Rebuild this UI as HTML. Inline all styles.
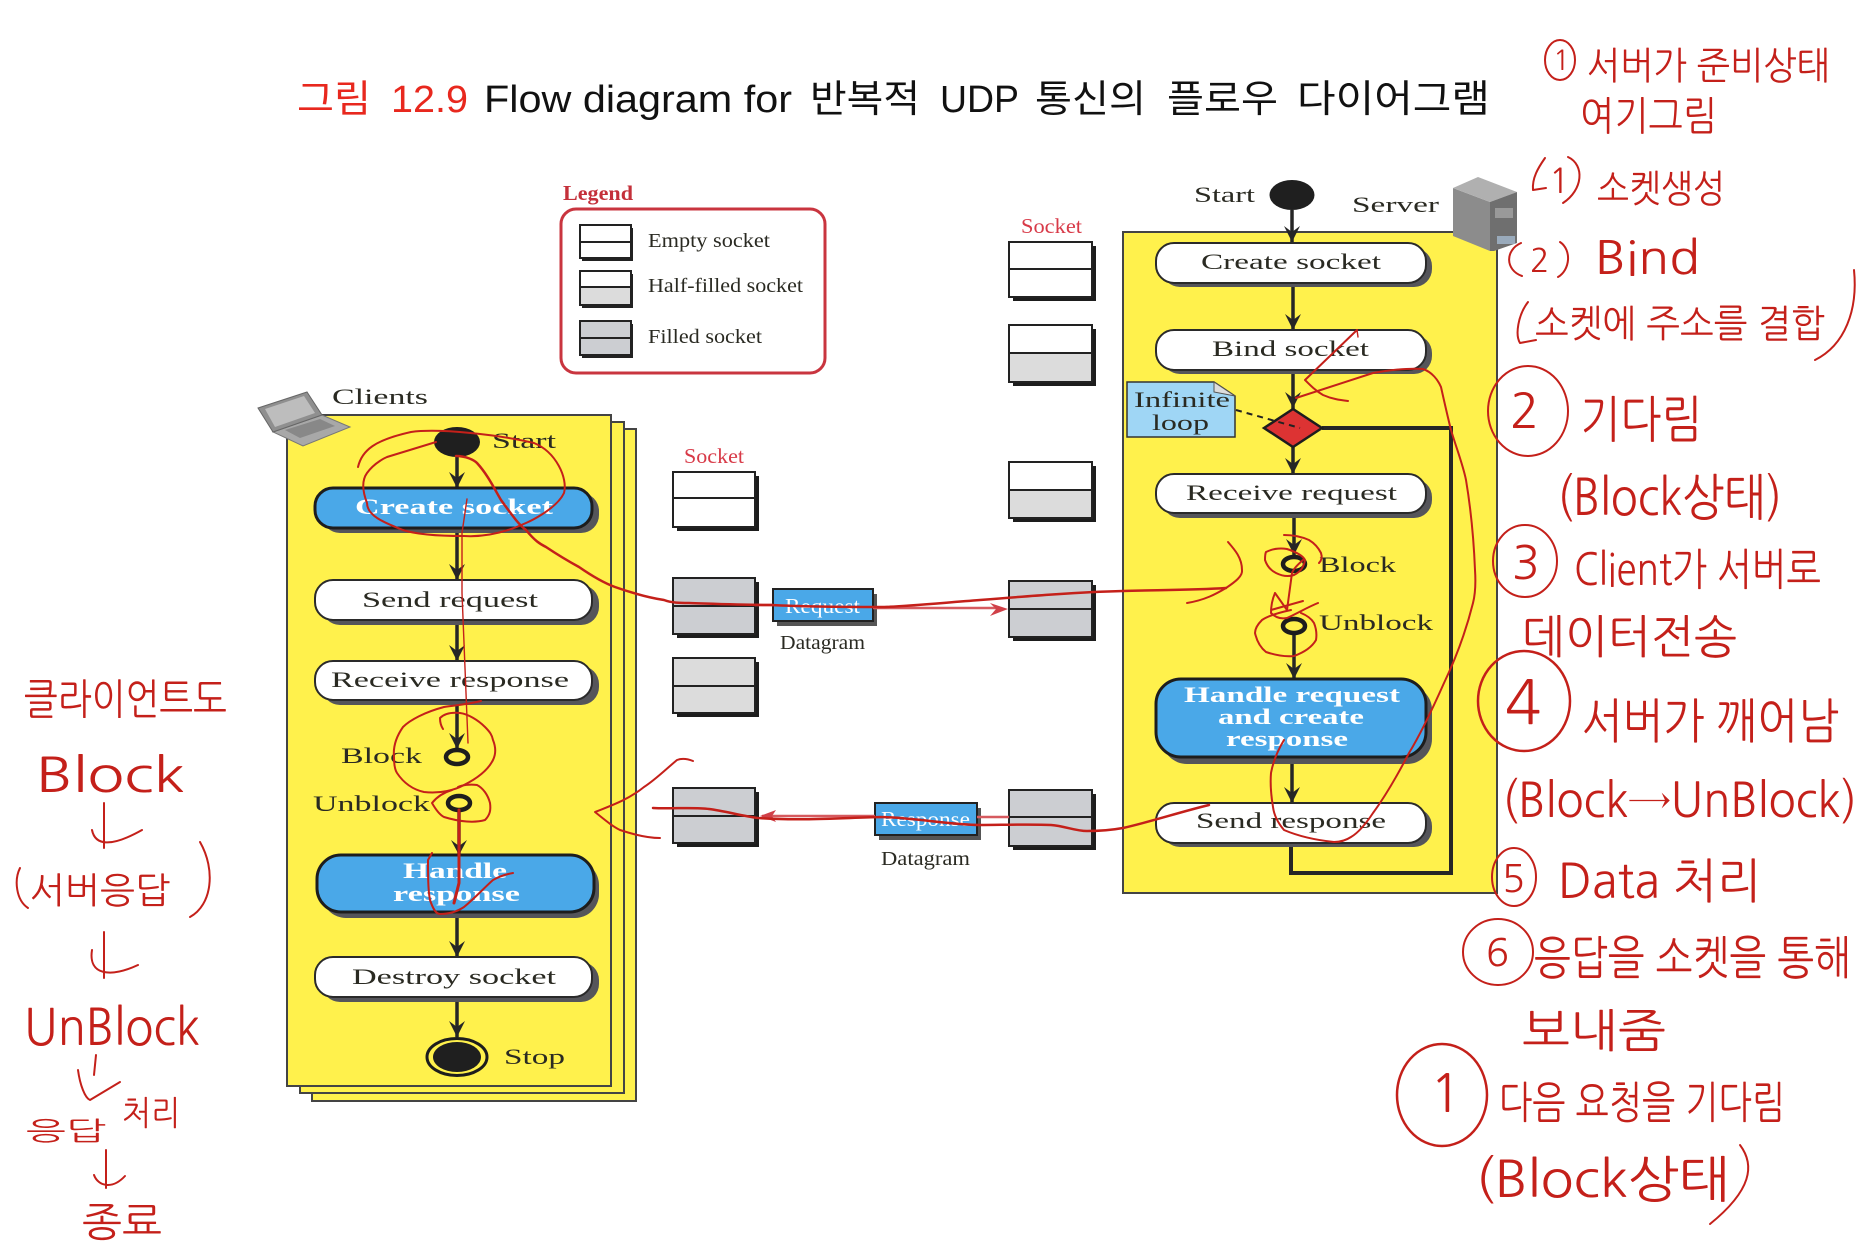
<!DOCTYPE html>
<html lang="ko">
<head>
<meta charset="utf-8">
<title>그림 12.9 Flow diagram</title>
<style>
html,body{margin:0;padding:0;background:#fff}
svg{display:block;font-size:22px}
text{font-family:"Liberation Serif","Noto Serif CJK SC",serif;fill:#2a2a22}
.t{font-family:"Liberation Sans","Noto Sans CJK KR",sans-serif;font-size:38px;fill:#111}
.tr{fill:#e8281e}
.w{fill:#fff;font-weight:bold}
.rl{fill:#d83a48;font-size:21px}
.lg{font-size:20px}
.panel{fill:#fff14c;stroke:#444;stroke-width:2}
.node{fill:#fff;stroke:#2a2a2a;stroke-width:2}
.blue{fill:#4aa8e8;stroke:#1d1d1d;stroke-width:3}
.sh{fill:#55555a}
.ln{stroke:#262626;stroke-width:3.5;fill:none}
.hd{fill:#262626}
.ring{fill:none;stroke:#1d1d1d;stroke-width:4.5}
.sk{stroke:#222;stroke-width:2}
.e{fill:#fff}.f{fill:#ccced2}.g{fill:#dcdcdc}
.pen{fill:none;stroke:#c4201a;stroke-width:2;stroke-linecap:round;stroke-linejoin:round}
.pent{fill:none;stroke:#c4201a;stroke-width:1.4;stroke-linecap:round;stroke-linejoin:round}
.penb{fill:none;stroke:#c4201a;stroke-width:3;stroke-linecap:round;stroke-linejoin:round}
.h{font-family:"NanumGothic","Noto Sans CJK KR",sans-serif;fill:#c4201a}
</style>
</head>
<body>
<svg width="1872" height="1244" viewBox="0 0 1872 1244" xmlns="http://www.w3.org/2000/svg">
<rect width="1872" height="1244" fill="#fff"/>

<!-- Title -->
<text class="t tr" x="297" y="112" textLength="74" lengthAdjust="spacingAndGlyphs">그림</text>
<text class="t tr" x="391" y="112" textLength="77" lengthAdjust="spacingAndGlyphs">12.9</text>
<text class="t" x="484" y="112" textLength="308" lengthAdjust="spacingAndGlyphs">Flow diagram for</text>
<text class="t" x="810" y="112" textLength="110" lengthAdjust="spacingAndGlyphs">반복적</text>
<text class="t" x="940" y="112" textLength="79" lengthAdjust="spacingAndGlyphs">UDP</text>
<text class="t" x="1035" y="112" textLength="111" lengthAdjust="spacingAndGlyphs">통신의</text>
<text class="t" x="1167" y="112" textLength="111" lengthAdjust="spacingAndGlyphs">플로우</text>
<text class="t" x="1297" y="112" textLength="193" lengthAdjust="spacingAndGlyphs">다이어그램</text>

<!-- Legend -->
<text x="563" y="200" textLength="70" lengthAdjust="spacingAndGlyphs" style="fill:#c4303a;font-weight:bold;font-size:21px">Legend</text>
<rect x="561" y="209" width="264" height="164" rx="15" fill="#fff" stroke="#c9353f" stroke-width="3"/>
<rect x="582" y="228" width="51" height="33" fill="#222"/>
<rect x="580" y="225" width="51" height="33" class="e sk"/><line x1="580" y1="242" x2="631" y2="242" class="sk"/>
<rect x="582" y="274" width="51" height="34" fill="#222"/>
<rect x="580" y="271" width="51" height="34" class="e sk"/><rect x="580" y="287" width="51" height="18" class="g sk"/>
<rect x="582" y="324" width="51" height="34" fill="#222"/>
<rect x="580" y="321" width="51" height="34" class="f sk"/><line x1="580" y1="338" x2="631" y2="338" class="sk"/>
<text class="lg" x="648" y="247" textLength="122" lengthAdjust="spacingAndGlyphs">Empty socket</text>
<text class="lg" x="648" y="292" textLength="155" lengthAdjust="spacingAndGlyphs">Half-filled socket</text>
<text class="lg" x="648" y="343" textLength="114" lengthAdjust="spacingAndGlyphs">Filled socket</text>

<!-- Client panels -->
<rect x="312" y="429" width="324" height="672" class="panel"/>
<rect x="300" y="422" width="324" height="671" class="panel"/>
<rect x="287" y="415" width="324" height="671" class="panel"/>

<!-- Laptop -->
<polygon points="273,432 322,415 350,427 303,446" fill="#a8a8a8" stroke="#777"/>
<polygon points="258,408 307,392 322,415 273,432" fill="#8f8f8f" stroke="#666"/>
<polygon points="265,409 304,396 315,413 275,427" fill="#bdbdbd"/>
<polygon points="285,430 320,419 335,426 300,438" fill="#888"/>
<text x="332" y="404" textLength="96" lengthAdjust="spacingAndGlyphs">Clients</text>

<!-- Client flow -->
<ellipse cx="457" cy="442" rx="23" ry="15" fill="#1f1f1f"/>
<text x="492" y="448" textLength="64" lengthAdjust="spacingAndGlyphs">Start</text>
<g>
<line x1="457" y1="457" x2="457" y2="488" class="ln"/><polygon points="449,472 457,478 465,472 457,488" class="hd"/>
<line x1="457" y1="528" x2="457" y2="580" class="ln"/><polygon points="449,564 457,570 465,564 457,580" class="hd"/>
<line x1="457" y1="620" x2="457" y2="661" class="ln"/><polygon points="449,645 457,651 465,645 457,661" class="hd"/>
<line x1="457" y1="700" x2="457" y2="748" class="ln"/><polygon points="449,733 457,739 465,733 457,749" class="hd"/>
<line x1="459" y1="812" x2="459" y2="855" class="ln"/><polygon points="451,840 459,846 467,840 459,855" class="hd"/>
<line x1="457" y1="912" x2="457" y2="957" class="ln"/><polygon points="449,941 457,947 465,941 457,957" class="hd"/>
<line x1="457" y1="997" x2="457" y2="1037" class="ln"/><polygon points="449,1021 457,1027 465,1021 457,1037" class="hd"/>
</g>

<rect x="322" y="493" width="277" height="40" rx="18" class="sh"/>
<rect x="315" y="488" width="277" height="40" rx="18" class="blue"/>
<text class="w" x="355" y="514" textLength="198" lengthAdjust="spacingAndGlyphs">Create socket</text>

<rect x="322" y="585" width="277" height="40" rx="18" class="sh"/>
<rect x="315" y="580" width="277" height="40" rx="18" class="node"/>
<text x="362" y="607" textLength="176" lengthAdjust="spacingAndGlyphs">Send request</text>

<rect x="322" y="666" width="277" height="39" rx="18" class="sh"/>
<rect x="315" y="661" width="277" height="39" rx="18" class="node"/>
<text x="331" y="687" textLength="238" lengthAdjust="spacingAndGlyphs">Receive response</text>

<text x="341" y="763" textLength="81" lengthAdjust="spacingAndGlyphs">Block</text>
<ellipse cx="457" cy="757" rx="11" ry="7" class="ring"/>
<text x="313" y="811" textLength="117" lengthAdjust="spacingAndGlyphs">Unblock</text>
<ellipse cx="459" cy="803" rx="11" ry="7" class="ring"/>

<rect x="322" y="861" width="277" height="57" rx="24" class="sh"/>
<rect x="317" y="855" width="277" height="57" rx="24" class="blue"/>
<text class="w" x="403" y="878" textLength="104" lengthAdjust="spacingAndGlyphs">Handle</text>
<text class="w" x="393" y="901" textLength="127" lengthAdjust="spacingAndGlyphs">response</text>

<rect x="322" y="962" width="277" height="40" rx="18" class="sh"/>
<rect x="315" y="957" width="277" height="40" rx="18" class="node"/>
<text x="352" y="984" textLength="204" lengthAdjust="spacingAndGlyphs">Destroy socket</text>

<ellipse cx="457" cy="1057" rx="30" ry="18.5" fill="none" stroke="#1d1d1d" stroke-width="3"/>
<ellipse cx="457" cy="1057" rx="24" ry="15" fill="#1f1f1f"/>
<text x="504" y="1064" textLength="61" lengthAdjust="spacingAndGlyphs">Stop</text>

<!-- Client sockets -->
<text class="rl" x="684" y="463" textLength="60" lengthAdjust="spacingAndGlyphs">Socket</text>
<rect x="677" y="476" width="82" height="55" fill="#1d1d1d"/>
<rect x="673" y="472" width="82" height="55" class="e sk"/><line x1="673" y1="498" x2="755" y2="498" class="sk"/>
<rect x="677" y="582" width="82" height="56" fill="#1d1d1d"/>
<rect x="673" y="578" width="82" height="56" class="f sk"/><line x1="673" y1="606" x2="755" y2="606" class="sk"/>
<rect x="677" y="662" width="82" height="55" fill="#1d1d1d"/>
<rect x="673" y="658" width="82" height="55" class="g sk"/><line x1="673" y1="686" x2="755" y2="686" class="sk"/>
<rect x="677" y="792" width="82" height="55" fill="#1d1d1d"/>
<rect x="673" y="788" width="82" height="55" class="f sk"/><line x1="673" y1="816" x2="755" y2="816" class="sk"/>

<!-- Datagrams -->
<rect x="777" y="594" width="100" height="32" fill="#555"/>
<rect x="773" y="589" width="100" height="32" fill="#4aa8e8" stroke="#222" stroke-width="2"/>
<text class="w" x="785" y="613" textLength="75" lengthAdjust="spacingAndGlyphs" style="font-weight:normal;font-size:21px">Request</text>
<text x="780" y="649" textLength="85" lengthAdjust="spacingAndGlyphs" style="font-size:20px">Datagram</text>
<rect x="879" y="808" width="102" height="32" fill="#555"/>
<rect x="875" y="803" width="102" height="32" fill="#4aa8e8" stroke="#222" stroke-width="2"/>
<text class="w" x="881" y="826" textLength="89" lengthAdjust="spacingAndGlyphs" style="font-weight:normal;font-size:21px">Response</text>
<text x="881" y="865" textLength="89" lengthAdjust="spacingAndGlyphs" style="font-size:20px">Datagram</text>

<!-- Server sockets -->
<text class="rl" x="1021" y="233" textLength="61" lengthAdjust="spacingAndGlyphs">Socket</text>
<rect x="1013" y="246" width="83" height="55" fill="#1d1d1d"/>
<rect x="1009" y="242" width="83" height="55" class="e sk"/><line x1="1009" y1="269" x2="1092" y2="269" class="sk"/>
<rect x="1013" y="329" width="83" height="57" fill="#1d1d1d"/>
<rect x="1009" y="325" width="83" height="57" class="e sk"/><rect x="1009" y="353" width="83" height="29" class="g sk"/>
<rect x="1013" y="466" width="83" height="56" fill="#1d1d1d"/>
<rect x="1009" y="462" width="83" height="56" class="e sk"/><rect x="1009" y="490" width="83" height="28" class="g sk"/>
<rect x="1013" y="585" width="83" height="56" fill="#1d1d1d"/>
<rect x="1009" y="581" width="83" height="56" class="f sk"/><line x1="1009" y1="609" x2="1092" y2="609" class="sk"/>
<rect x="1013" y="794" width="83" height="56" fill="#1d1d1d"/>
<rect x="1009" y="790" width="83" height="56" class="f sk"/><line x1="1009" y1="817" x2="1092" y2="817" class="sk"/>

<!-- Server panel -->
<rect x="1123" y="232" width="374" height="661" class="panel"/>
<polyline points="1322,428 1451,428 1451,873 1291,873 1291,846" fill="none" stroke="#262626" stroke-width="4"/>

<text x="1194" y="202" textLength="61" lengthAdjust="spacingAndGlyphs">Start</text>
<ellipse cx="1292" cy="195" rx="22.5" ry="15" fill="#1f1f1f"/>
<text x="1352" y="212" textLength="87" lengthAdjust="spacingAndGlyphs">Server</text>

<!-- Server icon -->
<polygon points="1453,188 1490,202 1490,251 1453,236" fill="#8c8c8c"/>
<polygon points="1453,188 1478,177 1517,192 1490,202" fill="#b0b0b0"/>
<polygon points="1490,202 1517,192 1517,243 1494,251 1490,251" fill="#6f6f6f"/>
<rect x="1495" y="208" width="18" height="10" fill="#999"/>
<rect x="1497" y="236" width="18" height="8" fill="#9ab"/>

<g>
<line x1="1292" y1="210" x2="1292" y2="242" class="ln"/><polygon points="1284,226 1292,232 1300,226 1292,242" class="hd"/>
<line x1="1293" y1="283" x2="1293" y2="330" class="ln"/><polygon points="1285,314 1293,320 1301,314 1293,330" class="hd"/>
<line x1="1293" y1="370" x2="1293" y2="409" class="ln"/><polygon points="1285,392 1293,398 1301,392 1293,408" class="hd"/>
<line x1="1293" y1="447" x2="1293" y2="474" class="ln"/><polygon points="1285,458 1293,464 1301,458 1293,474" class="hd"/>
<line x1="1294" y1="513" x2="1294" y2="555" class="ln"/><polygon points="1286,539 1294,545 1302,539 1294,555" class="hd"/>
<line x1="1294" y1="635" x2="1294" y2="679" class="ln"/><polygon points="1286,663 1294,669 1302,663 1294,679" class="hd"/>
<line x1="1292" y1="757" x2="1292" y2="803" class="ln"/><polygon points="1284,787 1292,793 1300,787 1292,803" class="hd"/>
</g>

<rect x="1162" y="248" width="270" height="39" rx="18" class="sh"/>
<rect x="1156" y="243" width="270" height="40" rx="18" class="node"/>
<text x="1201" y="269" textLength="180" lengthAdjust="spacingAndGlyphs">Create socket</text>

<rect x="1162" y="335" width="270" height="39" rx="18" class="sh"/>
<rect x="1156" y="330" width="270" height="40" rx="18" class="node"/>
<text x="1212" y="356" textLength="157" lengthAdjust="spacingAndGlyphs">Bind socket</text>

<polygon points="1127,382 1214,382 1235,396 1235,437 1127,437" fill="#9fd6f5" stroke="#333" stroke-width="1.5"/>
<polygon points="1214,382 1235,396 1214,392" fill="#ddd" stroke="#555"/>
<text x="1134" y="407" textLength="96" lengthAdjust="spacingAndGlyphs">Infinite</text>
<text x="1152" y="430" textLength="57" lengthAdjust="spacingAndGlyphs">loop</text>

<polygon points="1264,428 1293,409 1322,428 1293,447" fill="#dd3333" stroke="#1d1d1d" stroke-width="2.5"/>
<line x1="1236" y1="410" x2="1300" y2="428" stroke="#222" stroke-width="2" stroke-dasharray="6 5"/>

<rect x="1162" y="479" width="270" height="39" rx="18" class="sh"/>
<rect x="1156" y="474" width="270" height="39" rx="18" class="node"/>
<text x="1186" y="500" textLength="211" lengthAdjust="spacingAndGlyphs">Receive request</text>

<ellipse cx="1294" cy="564" rx="11" ry="7" class="ring"/>
<text x="1319" y="572" textLength="77" lengthAdjust="spacingAndGlyphs">Block</text>
<ellipse cx="1294" cy="626" rx="11" ry="7" class="ring"/>
<text x="1319" y="630" textLength="114" lengthAdjust="spacingAndGlyphs">Unblock</text>

<rect x="1162" y="685" width="270" height="79" rx="25" class="sh"/>
<rect x="1156" y="679" width="270" height="78" rx="25" class="blue"/>
<text class="w" x="1184" y="702" textLength="216" lengthAdjust="spacingAndGlyphs">Handle request</text>
<text class="w" x="1218" y="724" textLength="146" lengthAdjust="spacingAndGlyphs">and create</text>
<text class="w" x="1226" y="746" textLength="122" lengthAdjust="spacingAndGlyphs">response</text>

<rect x="1162" y="808" width="270" height="39" rx="18" class="sh"/>
<rect x="1156" y="803" width="270" height="40" rx="18" class="node"/>
<text x="1196" y="828" textLength="190" lengthAdjust="spacingAndGlyphs">Send response</text>

<!-- Thin red message lines -->
<g fill="none" stroke="#d65a5f" stroke-width="2.5">
<path d="M755 605 H773"/><path d="M873 608 H1000"/>
<path d="M762 816 H875"/><path d="M977 817 H1009"/>
</g>
<polygon points="1008,609 990,603 996,609 990,616" fill="#d04048"/>
<polygon points="760,816 776,810 772,816 776,822" fill="#d04048"/>

<!-- Handwritten annotations over the diagram -->
<g>
<path class="pen" d="M358 467 C362 450 375 440 411 432 C440 428 500 435 534 443 C556 452 568 478 564 493 C556 510 526 523 526 523 C500 535 480 537 464 536 C435 536 415 534 403 530 C382 522 367 515 367 503 C362 490 362 480 367 473 C375 462 387 457 387 457 L436 442"/>
<path class="penb" style="stroke-width:2.5" d="M456 456 C466 456 474 460 477 463 C488 475 495 490 501 500 C512 515 518 524 526 530 C535 541 540 544 546 547 C558 555 568 561 579 567 C592 576 604 583 615 587 C635 594 650 598 664 600 C672 603 680 603 689 603 C720 604 745 605 771 605 C810 607 845 607 880 607 C900 607 940 603 980 600 C1030 596 1080 592 1123 591 C1160 590 1195 590 1226 588"/>
<path class="pen" d="M1187 603 C1205 600 1216 594 1226 588 C1235 582 1243 576 1242 570 C1242 558 1235 550 1228 542"/>
<path class="pent" d="M467 499 L462 533 L462 593 L468 743"/>
<path class="pen" d="M481 701 C465 705 455 705 444 707 C425 712 410 720 403 727 C396 737 393 747 394 757 C394 765 395 770 397 773 C405 785 415 790 424 792 C440 794 455 790 464 785 C478 778 488 770 493 760 C497 752 495 745 493 740 C492 735 490 732 485 727 C478 720 468 714 460 713 C450 712 444 714 440 718 C440 722 441 726 443 729"/>
<path class="pen" d="M452 790 C442 793 436 798 432 803 C436 810 440 815 444 817 C460 822 475 823 485 820 C490 815 491 810 490 803 C488 795 483 788 477 785 C470 784 462 785 458 787"/>
<path class="penb" d="M459 810 L459 883 L454 903"/>
<path class="pen" d="M432 853 L428 860 C428 875 428 890 430 900 C433 909 436 914 440 914 C450 914 458 911 464 907 C475 898 485 887 493 880 C500 876 507 874 513 873"/>
<path class="pen" d="M693 761 C688 759 682 758 677 760 C665 770 655 780 644 787 C628 800 610 806 595 812 C605 820 612 826 620 830 C635 835 648 838 660 838"/>
<path class="penb" style="stroke-width:2.5" d="M653 808 C670 809 695 807 709 809 C725 811 742 816 758 818 C800 821 840 818 880 817 C910 817 950 825 980 825 C1000 825 1030 824 1051 825 C1065 826 1075 831 1087 831 C1100 831 1112 830 1123 828 C1150 822 1180 812 1209 805"/>
<path class="pen" d="M1357 330 L1305 380 C1311 386 1316 391 1323 395 C1332 399 1340 400 1348 401"/>
<path class="pent" d="M1357 330 L1358 337"/>
<path class="pen" d="M1296 398 L1373 373 C1390 370 1410 368 1423 369 C1432 372 1438 380 1441 387 C1445 405 1448 418 1451 430 C1457 450 1463 465 1466 480 C1471 510 1474 545 1475 570 C1476 585 1475 595 1473 603 C1465 635 1455 660 1444 683 C1432 710 1420 735 1409 753 C1396 778 1384 798 1373 813 C1365 825 1358 833 1351 837 C1345 841 1339 842 1334 842 C1315 840 1298 836 1284 830 C1278 823 1274 815 1273 807 C1271 795 1270 785 1271 773 C1273 762 1278 750 1284 740"/>
<path class="pen" d="M1266 552 C1272 549 1280 548 1287 549 C1296 552 1303 556 1305 560 C1304 567 1300 572 1294 575 C1288 577 1282 576 1276 573 C1270 570 1267 566 1265 560 C1265 557 1265 554 1266 552"/>
<path class="pen" d="M1319 563 C1322 560 1322 556 1321 553 C1318 547 1314 543 1309 540 C1300 536 1290 535 1284 535"/>
<path class="pen" d="M1303 560 C1296 566 1293 570 1292 573 L1287 610"/>
<path class="pen" d="M1275 593 C1272 600 1271 607 1271 613 C1276 618 1282 619 1287 618 C1298 613 1308 607 1318 603 M1275 593 L1287 610 M1271 610 L1303 601"/>
<path class="pen" d="M1291 610 C1277 613 1268 616 1262 620 C1257 625 1255 629 1255 633 C1257 642 1261 648 1266 652 C1275 655 1285 657 1294 656 C1305 652 1312 647 1316 640 C1317 634 1316 628 1314 623 C1311 618 1306 615 1301 613"/>
</g>

<!-- Handwritten notes: right -->
<g>
<ellipse cx="1560" cy="60" rx="15" ry="20" class="pen"/><text class="h" x="1553" y="70" font-size="28">1</text>
<text class="h" x="1587" y="79" font-size="38" textLength="243" lengthAdjust="spacingAndGlyphs">서버가 준비상태</text>
<text class="h" x="1580" y="130" font-size="40" textLength="137" lengthAdjust="spacingAndGlyphs">여기그림</text>

<path class="pen" d="M1545 158 C1538 168 1532 178 1533 190 L1546 188 M1568 157 C1585 165 1583 190 1563 203"/>
<text class="h" x="1549" y="193" font-size="34">1</text>
<text class="h" x="1597" y="202" font-size="38" textLength="128" lengthAdjust="spacingAndGlyphs">소켓생성</text>

<path class="pen" d="M1521 243 C1505 250 1505 270 1522 276 M1560 242 C1572 250 1570 270 1558 277"/>
<text class="h" x="1530" y="272" font-size="32">2</text>
<text class="h" x="1595" y="274" font-size="46" textLength="105" lengthAdjust="spacingAndGlyphs">Bind</text>
<path class="pen" d="M1528 302 C1518 315 1515 335 1520 343 L1536 340"/>
<text class="h" x="1535" y="337" font-size="38" textLength="290" lengthAdjust="spacingAndGlyphs">소켓에 주소를 결합</text>
<path class="pen" d="M1854 270 C1858 310 1845 345 1815 360"/>

<ellipse cx="1528" cy="411" rx="40" ry="45" class="pen"/>
<text class="h" x="1510" y="428" font-size="48">2</text>
<text class="h" x="1580" y="437" font-size="50" textLength="122" lengthAdjust="spacingAndGlyphs">기다림</text>

<text class="h" x="1557" y="515" font-size="50" textLength="225" lengthAdjust="spacingAndGlyphs">(Block상태)</text>

<ellipse cx="1525" cy="561" rx="32" ry="36" class="pen"/>
<text class="h" x="1512" y="579" font-size="46">3</text>
<text class="h" x="1574" y="585" font-size="44" textLength="247" lengthAdjust="spacingAndGlyphs">Client가 서버로</text>
<text class="h" x="1522" y="653" font-size="46" textLength="215" lengthAdjust="spacingAndGlyphs">데이터전송</text>

<ellipse cx="1524" cy="701" rx="46" ry="50" class="penb" style="stroke-width:2.5"/>
<text class="h" x="1505" y="724" font-size="60">4</text>
<text class="h" x="1582" y="738" font-size="48" textLength="257" lengthAdjust="spacingAndGlyphs">서버가 깨어남</text>
<text class="h" x="1502" y="817" font-size="48" textLength="355" lengthAdjust="spacingAndGlyphs">(Block→UnBlock)</text>

<ellipse cx="1514" cy="877" rx="22" ry="29" class="pen"/>
<text class="h" x="1502" y="892" font-size="38">5</text>
<text class="h" x="1558" y="898" font-size="48" textLength="203" lengthAdjust="spacingAndGlyphs">Data 처리</text>

<ellipse cx="1498" cy="952" rx="35" ry="33" class="pen"/>
<text class="h" x="1486" y="966" font-size="38">6</text>
<text class="h" x="1534" y="974" font-size="46" textLength="317" lengthAdjust="spacingAndGlyphs">응답을 소켓을 통해</text>
<text class="h" x="1522" y="1047" font-size="46" textLength="144" lengthAdjust="spacingAndGlyphs">보내줌</text>

<ellipse cx="1442" cy="1095" rx="45" ry="51" class="penb" style="stroke-width:2.5"/>
<text class="h" x="1430" y="1112" font-size="52">1</text>
<text class="h" x="1499" y="1118" font-size="44" textLength="286" lengthAdjust="spacingAndGlyphs">다음 요청을 기다림</text>
<text class="h" x="1475" y="1197" font-size="50" textLength="255" lengthAdjust="spacingAndGlyphs">(Block상태</text>
<path class="pen" d="M1740 1145 C1755 1165 1752 1190 1710 1224"/>
</g>

<!-- Handwritten notes: left -->
<g>
<text class="h" x="24" y="714" font-size="42" textLength="203" lengthAdjust="spacingAndGlyphs">클라이언트도</text>
<text class="h" x="36" y="792" font-size="48" textLength="149" lengthAdjust="spacingAndGlyphs">Block</text>
<path class="pen" d="M104 803 L104 848 M92 830 C95 845 110 848 142 830"/>
<path class="pen" d="M20 868 C14 880 16 900 28 908 M200 842 C216 870 212 905 190 917"/>
<text class="h" x="30" y="903" font-size="36" textLength="140" lengthAdjust="spacingAndGlyphs">서버응답</text>
<path class="pen" d="M104 932 L104 978 M92 950 C88 975 110 978 138 965"/>
<text class="h" x="24" y="1045" font-size="50" textLength="176" lengthAdjust="spacingAndGlyphs">UnBlock</text>
<path class="pen" d="M96 1055 L94 1075 M78 1070 C80 1085 85 1098 90 1100 L120 1082"/>
<text class="h" x="26" y="1140" font-size="26" textLength="80" lengthAdjust="spacingAndGlyphs">응답</text>
<text class="h" x="122" y="1125" font-size="34" textLength="58" lengthAdjust="spacingAndGlyphs">처리</text>
<path class="pen" d="M106 1150 L106 1188 M94 1175 C98 1186 112 1190 125 1176"/>
<text class="h" x="82" y="1236" font-size="40" textLength="80" lengthAdjust="spacingAndGlyphs">종료</text>
</g>
</svg>
</body>
</html>
